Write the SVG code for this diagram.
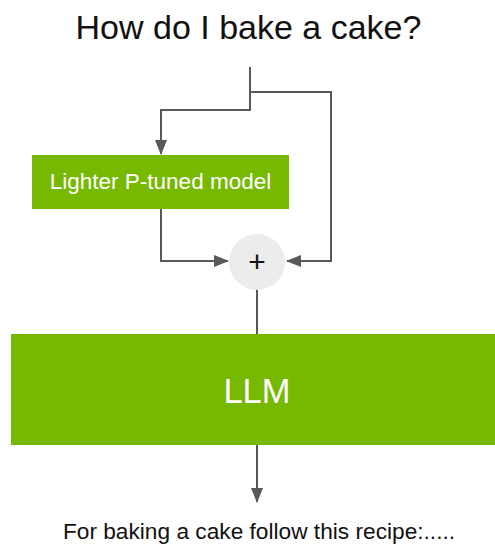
<svg xmlns="http://www.w3.org/2000/svg" width="495" height="546" viewBox="0 0 495 546">
<style>
.t{font-family:"Liberation Sans",Arial,sans-serif;}
.c{fill:none;stroke:#595959;stroke-width:2;}
.box{fill:#76b900;}
</style>
<defs>
<marker id="ah" markerWidth="15" markerHeight="12" refX="14" refY="6" orient="auto" markerUnits="userSpaceOnUse" viewBox="0 0 15 12">
<path d="M0,0 L15,6 L0,12 z" fill="#595959"/>
</marker>
</defs>
<rect width="495" height="546" fill="#fff"/>
<text class="t" x="248.5" y="39" font-size="34" text-anchor="middle" fill="#111">How do I bake a cake?</text>
<g id="connectors">
<path class="c" d="M250,67 V110 H161 V154" marker-end="url(#ah)"/>
<path class="c" d="M250,92 H331 V261 H287" marker-end="url(#ah)"/>
<path class="c" d="M161,209 V261 H228" marker-end="url(#ah)"/>
<path class="c" d="M257,289 V334"/>
<path class="c" d="M257,445 V502" marker-end="url(#ah)"/>
</g>
<g id="ptuned">
<rect class="box" x="32" y="155" width="257" height="54"/>
<text class="t" x="160.5" y="189" font-size="22.5" text-anchor="middle" fill="#fff">Lighter P-tuned model</text>
</g>
<g id="plus">
<circle cx="257" cy="262" r="28" fill="#ececec"/>
<text class="t" x="257" y="272" font-size="30" text-anchor="middle" fill="#111">+</text>
</g>
<g id="llm">
<rect class="box" x="11" y="334" width="484" height="111"/>
<text class="t" x="257" y="403" font-size="34.5" text-anchor="middle" fill="#fff">LLM</text>
</g>
<text class="t" x="259" y="539" font-size="22.7" text-anchor="middle" fill="#111">For baking a cake follow this recipe:.....</text>
</svg>
